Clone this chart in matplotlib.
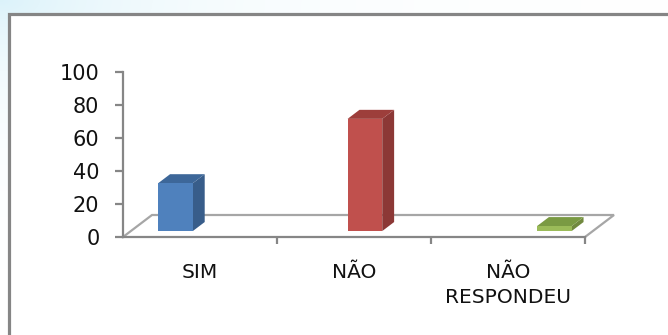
import numpy as np
import matplotlib
matplotlib.use("Agg")
import matplotlib.pyplot as plt
from matplotlib.patches import Polygon, Rectangle

categories = ["SIM", "NÃO", "NÃO\nRESPONDEU"]
values = [29, 68, 3]
y_ticks = [0, 20, 40, 60, 80, 100]

front_colors = ["#4F81BD", "#C0504D", "#9BBB59"]
side_colors = ["#385D8A", "#8C3836", "#71893F"]
top_colors = ["#3D6799", "#9D3E3B", "#7A9A43"]

W, H = 668, 335
fig = plt.figure(figsize=(W / 100, H / 100), dpi=100)

# background gradient (outside chart border)
bg = fig.add_axes([0, 0, 1, 1])
yy, xx = np.mgrid[0:H, 0:W]
r = np.sqrt((xx / 260.0) ** 2 + (yy / 120.0) ** 2)
t = np.clip(np.exp(-r * 1.6), 0, 1)
c0 = np.array([0.86, 0.95, 0.98])
img = np.ones((H, W, 3)) * (1 - t[..., None]) + c0 * t[..., None]
bg.imshow(img, extent=[0, W, H, 0], aspect="auto")
bg.set_xlim(0, W)
bg.set_ylim(H, 0)
bg.axis("off")
bg.add_patch(Rectangle((9, 14), W + 10, H + 10, facecolor="white",
                       edgecolor="#858585", linewidth=2.3))

# plot axes: x from 123 to 585 px, y from 72 to 237 px (top-down)
x_left, x_right = 123, 585
y_top, y_bot = 72, 237
ax = fig.add_axes([x_left / W, (H - y_bot) / H, (x_right - x_left) / W, (y_bot - y_top) / H])
ax.set_xlim(-0.5, 2.5)
ax.set_ylim(0, 100)
ax.patch.set_alpha(0)

px_x = (x_right - x_left) / 3.0
px_y = (y_bot - y_top) / 100.0
Dx, Dy = 29 / px_x, 22 / px_y  # floor depth vector in data units

# floor outline
floor_col = "#A6A6A6"
ax.plot([2.5, 2.5 + Dx, -0.5 + Dx, -0.5], [0, Dy, Dy, 0], color=floor_col, lw=1.6,
        clip_on=False, solid_joinstyle="miter", zorder=1)

# bars
f0, d = 0.27, 0.41
spread, mid = 1.23, 1.02
w = 0.225
for i, (v, fc, sc, tc) in enumerate(zip(values, front_colors, side_colors, top_colors)):
    cx = mid + (i - 1) * spread + f0 * Dx
    x0 = cx - w / 2
    base = f0 * Dy
    ddx, ddy = d * Dx, d * Dy
    ax.add_patch(Polygon([(x0 + w, base), (x0 + w + ddx, base + ddy),
                          (x0 + w + ddx, base + v + ddy), (x0 + w, base + v)],
                         closed=True, facecolor=sc, edgecolor="none", clip_on=False, zorder=3))
    ax.add_patch(Polygon([(x0, base + v), (x0 + w, base + v), (x0 + w + ddx, base + v + ddy),
                          (x0 + ddx, base + v + ddy)],
                         closed=True, facecolor=tc, edgecolor="none", clip_on=False, zorder=3))
    ax.add_patch(Rectangle((x0, base), w, v, facecolor=fc, edgecolor="none",
                           clip_on=False, zorder=4))

# axes styling
for s in ["top", "right"]:
    ax.spines[s].set_visible(False)
axis_col = "#868686"
ax.spines["left"].set_color(axis_col)
ax.spines["bottom"].set_color(axis_col)
ax.spines["left"].set_linewidth(1.6)
ax.spines["bottom"].set_linewidth(1.6)

font = "DejaVu Sans"
ax.set_yticks(y_ticks)
ax.set_yticklabels([str(t) for t in y_ticks], fontsize=15, family=font, color="#111111")
ax.tick_params(axis="y", length=6, width=1.6, color=axis_col, pad=11)

ax.set_xticks([0, 1, 2])
ax.set_xticklabels(categories, fontsize=14.5, family=font, color="#111111", linespacing=1.38,
                   va="top")
ax.tick_params(axis="x", which="major", length=0, pad=19)
ax.set_xticks([0.5, 1.5, 2.5], minor=True)
ax.tick_params(axis="x", which="minor", length=5, width=1.6, color=axis_col)

fig.savefig("out.png", dpi=100)
